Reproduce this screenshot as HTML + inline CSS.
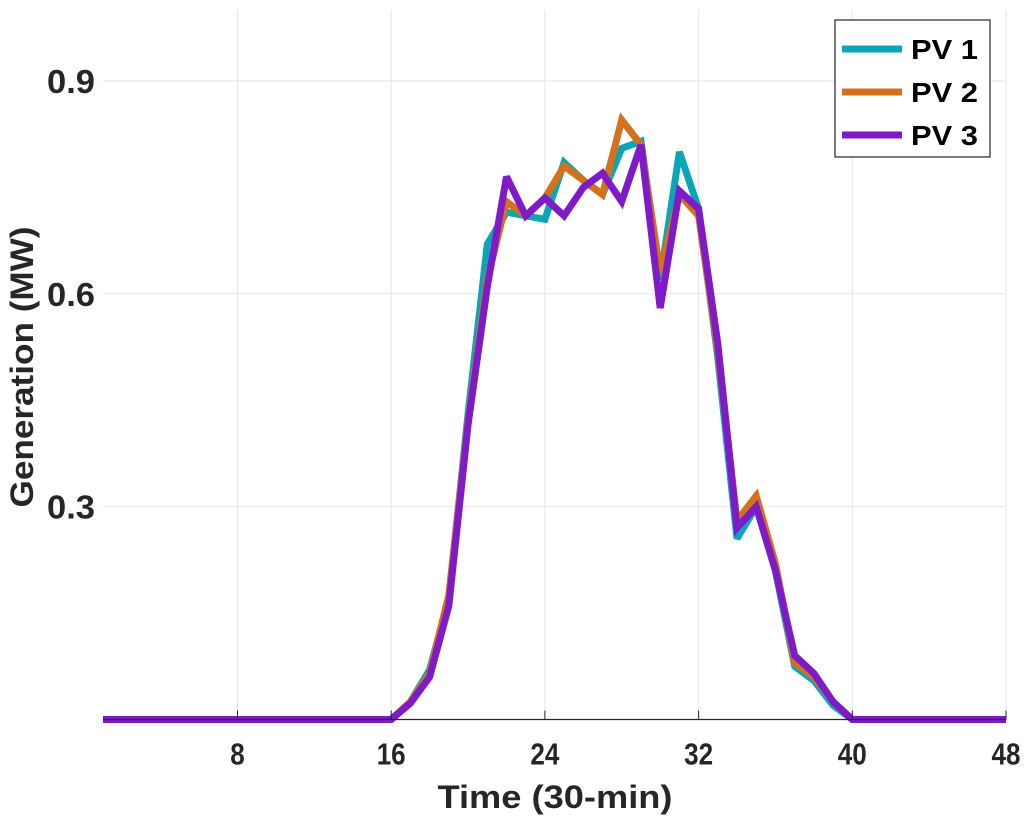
<!DOCTYPE html>
<html><head><meta charset="utf-8"><style>
body{margin:0;background:#fff;}
svg{display:block;font-family:"Liberation Sans",Arial,sans-serif;font-weight:bold;}
</style></head><body>
<svg id="chart" width="1032" height="818" viewBox="0 0 1032 818">
<g id="grid"></g>
<g id="lines"></g>
<g id="axes"></g>
<text x="555" y="808" font-size="32" text-anchor="middle" textLength="235" lengthAdjust="spacingAndGlyphs" fill="#262626">Time (30-min)</text>
<text transform="translate(33,367) rotate(-90)" font-size="32" text-anchor="middle" textLength="281" lengthAdjust="spacingAndGlyphs" fill="#262626">Generation (MW)</text>
<g id="legend"></g>
</svg>
<script>
const xTicks=[8,16,24,32,40,48];
const yTicks=[0.3,0.6,0.9];
const yTickLabels=["0.3","0.6","0.9"];
const seriesNames=["PV 1","PV 2","PV 3"];
const seriesColors=["#0aa6b8","#d5711a","#7e1ac8"];
const pv1=[0,0,0,0,0,0,0,0,0,0,0,0,0,0,0,0,0.025,0.07,0.17,0.43,0.67,0.715,0.71,0.705,0.785,0.76,0.74,0.805,0.815,0.62,0.80,0.72,0.51,0.255,0.30,0.21,0.075,0.055,0.02,0,0,0,0,0,0,0,0,0];
const pv2=[0,0,0,0,0,0,0,0,0,0,0,0,0,0,0,0,0.025,0.065,0.175,0.42,0.62,0.73,0.71,0.735,0.78,0.76,0.74,0.845,0.81,0.63,0.74,0.71,0.52,0.28,0.315,0.22,0.08,0.06,0.025,0,0,0,0,0,0,0,0,0];
const pv3=[0,0,0,0,0,0,0,0,0,0,0,0,0,0,0,0,0.023,0.06,0.16,0.415,0.61,0.765,0.71,0.735,0.71,0.75,0.77,0.73,0.81,0.58,0.745,0.72,0.53,0.27,0.30,0.21,0.09,0.065,0.025,0,0,0,0,0,0,0,0,0];
const series=[pv1,pv2,pv3];
const L=103,R=1006,T=10,B=719.5,xMin=1,xMax=48,yMin=0,yMax=1;
const xs=v=>L+(v-xMin)/(xMax-xMin)*(R-L);
const ys=v=>B-(v-yMin)/(yMax-yMin)*(B-T);
const NS="http://www.w3.org/2000/svg";
function mk(tag,attrs,parent){const e=document.createElementNS(NS,tag);for(const k in attrs)e.setAttribute(k,attrs[k]);parent.appendChild(e);return e;}
const grid=document.getElementById('grid'),axes=document.getElementById('axes'),lines=document.getElementById('lines'),legend=document.getElementById('legend');
xTicks.forEach(t=>{
 const g=mk('line',{x1:xs(t),x2:xs(t),y1:T,y2:B,stroke:'#e6e6e6','stroke-width':1},grid);
 
 
 const tk=mk('line',{x1:xs(t),x2:xs(t),y1:B,y2:B-9,stroke:'#262626','stroke-width':1},axes);
 
 
 const tx=mk('text',{x:xs(t),y:B+45,'font-size':31,'text-anchor':'middle',fill:'#262626',textLength:(String(t).length*14.5),lengthAdjust:'spacingAndGlyphs'},axes);
 tx.textContent=t;
 
 
});
yTicks.forEach((t,i)=>{
 const g=mk('line',{x1:L,x2:R,y1:ys(t),y2:ys(t),stroke:'#e6e6e6','stroke-width':1},grid);
 
 
 const tx=mk('text',{x:95,y:ys(t)+12,'font-size':33,'text-anchor':'end',fill:'#262626',textLength:48,lengthAdjust:'spacingAndGlyphs'},axes);
 tx.textContent=yTickLabels[i];
 
 
});
const xa=mk('line',{x1:L,x2:R,y1:B,y2:B,stroke:'#262626','stroke-width':1.2},axes);


series.forEach((s,k)=>{
 const d=s.map((v,i)=>(i?'L':'M')+xs(i+1).toFixed(1)+','+ys(v).toFixed(1)).join(' ');
 const p=mk('path',{d:d,fill:'none',stroke:seriesColors[k],'stroke-width':7,'stroke-linejoin':'miter','stroke-miterlimit':3},lines);
 
 
});
const box=mk('rect',{x:835,y:20,width:155,height:137,fill:'#fff',stroke:'#262626','stroke-width':1.2},legend);


seriesNames.forEach((n,k)=>{
 const y=49+k*43;
 const ln=mk('line',{x1:842,x2:902,y1:y,y2:y,stroke:seriesColors[k],'stroke-width':7},legend);
 
 
 const tx=mk('text',{x:911,y:y+10,'font-size':28,fill:'#000',textLength:67,lengthAdjust:'spacingAndGlyphs'},legend);
 tx.textContent=n;
 
 
});
</script>
</body></html>
